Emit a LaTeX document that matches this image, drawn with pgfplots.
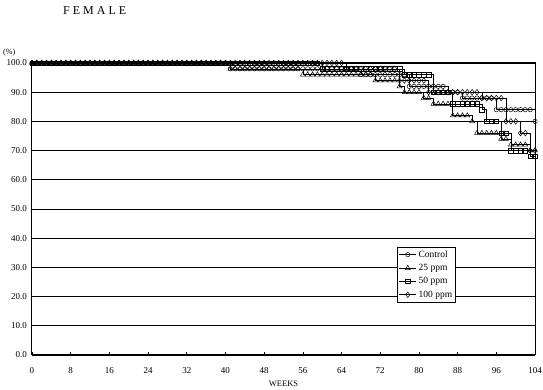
\documentclass[border=0pt]{standalone}
\usepackage{fontspec}
\setmainfont{Liberation Serif}
\usepackage{pgfplots}
\usepackage{pgfplotstable}
\pgfplotsset{compat=1.18}

\pgfplotstableread{
w c t s d
0 100 100 100 100
1 100 100 100 100
2 100 100 100 100
3 100 100 100 100
4 100 100 100 100
5 100 100 100 100
6 100 100 100 100
7 100 100 100 100
8 100 100 100 100
9 100 100 100 100
10 100 100 100 100
11 100 100 100 100
12 100 100 100 100
13 100 100 100 100
14 100 100 100 100
15 100 100 100 100
16 100 100 100 100
17 100 100 100 100
18 100 100 100 100
19 100 100 100 100
20 100 100 100 100
21 100 100 100 100
22 100 100 100 100
23 100 100 100 100
24 100 100 100 100
25 100 100 100 100
26 100 100 100 100
27 100 100 100 100
28 100 100 100 100
29 100 100 100 100
30 100 100 100 100
31 100 100 100 100
32 100 100 100 100
33 100 100 100 100
34 100 100 100 100
35 100 100 100 100
36 100 100 100 100
37 100 100 100 100
38 100 100 100 100
39 100 100 100 100
40 100 100 100 100
41 98 98 100 100
42 98 98 100 100
43 98 98 100 100
44 98 98 100 100
45 98 98 100 100
46 98 98 100 100
47 98 98 100 100
48 98 98 100 100
49 98 98 100 100
50 98 98 100 100
51 98 98 100 100
52 98 98 100 100
53 98 98 100 100
54 98 98 100 100
55 98 98 100 100
56 98 96 100 100
57 98 96 100 100
58 98 96 100 100
59 98 96 100 100
60 98 96 98 100
61 98 96 98 100
62 98 96 98 100
63 98 96 98 100
64 98 96 98 100
65 98 96 98 98
66 98 96 98 98
67 98 96 98 98
68 96 96 98 98
69 96 96 98 98
70 96 96 98 98
71 96 94 98 98
72 96 94 98 98
73 96 94 98 98
74 96 94 98 98
75 96 94 98 98
76 96 92 98 94
77 96 90 96 94
78 92 90 96 94
79 92 90 96 94
80 92 90 96 94
81 92 88 96 94
82 92 88 96 90
83 92 86 90 90
84 92 86 90 90
85 92 86 90 90
86 90 86 90 90
87 90 82 86 90
88 90 82 86 90
89 88 82 86 90
90 88 82 86 90
91 88 80 86 90
92 88 76 86 90
93 88 76 84 88
94 88 76 80 88
95 88 76 80 88
96 84 76 80 88
97 84 74 76 88
98 84 74 76 80
99 84 72 70 80
100 84 72 70 80
101 84 72 70 76
102 84 72 70 76
103 84 70 68 70
104 80 70 68 70
}\survtab

\begin{document}
\begin{tikzpicture}
\path[use as bounding box] (0pt,0pt) rectangle (543pt,390pt);
\begin{axis}[
  at={(32pt,35pt)}, anchor=south west,
  scale only axis, width=503pt, height=292pt,
  xmin=0, xmax=104, ymin=0, ymax=100,
  xtick={0,8,...,104}, ytick={0,10,...,100},
  ymajorgrids, grid style={black, line width=0.8pt},
  axis line style={line width=1pt},
  xtick pos=bottom, ytick pos=left,
  tick align=inside, major tick length=3pt,
  ytick style={draw=none},
  xtick style={black, line width=0.6pt},
  /pgf/number format/assume math mode=true,
  yticklabel style={/pgf/number format/.cd, fixed, fixed zerofill, precision=1, /tikz/.cd, anchor=east, inner sep=0pt, xshift=-5pt, font=\fontsize{9}{9}\selectfont},
  xticklabel style={anchor=base, inner sep=0pt, yshift=-19pt, font=\fontsize{9}{9}\selectfont},
  xlabel={WEEKS},
  xlabel style={at={(axis description cs:0.5,0)}, anchor=base, inner sep=0pt, yshift=-32pt, font=\fontsize{8.5}{9}\selectfont},
  clip=false,
  legend style={at={(rel axis cs:0.726,0.18)}, anchor=south west, draw=black, fill=white, line width=0.6pt, font=\fontsize{9.5}{10}\selectfont, inner sep=1.5pt, row sep=1.5pt, legend cell align=left},
  every axis plot/.append style={line width=0.6pt, black},
]
\addplot[const plot, mark=o, mark size=2.2pt, mark options={solid, fill=white, line width=0.5pt}] table[x=w, y=c] {\survtab};
\addlegendentry{Control}
\addplot[const plot, mark=triangle, mark size=2.8pt, mark options={solid, fill=white, line width=0.5pt}] table[x=w, y=t] {\survtab};
\addlegendentry{25 ppm}
\addplot[const plot, mark=square, mark size=2.2pt, mark options={solid, fill=white, line width=0.5pt}] table[x=w, y=s] {\survtab};
\addlegendentry{50 ppm}
\addplot[const plot, mark=diamond, mark size=2.8pt, mark options={solid, fill=white, line width=0.5pt}] table[x=w, y=d] {\survtab};
\addlegendentry{100 ppm}
\node[anchor=base west, inner sep=0pt, font=\fontsize{8}{8}\selectfont, xshift=-29pt, yshift=8pt] at (rel axis cs:0,1) {(\%)};
\node[anchor=base west, inner sep=0pt, font=\fontsize{12}{12}\selectfont, xshift=31pt, yshift=48pt] at (rel axis cs:0,1) {F\hspace{3pt}E\hspace{3pt}M\hspace{3pt}A\hspace{3pt}L\hspace{3pt}E};
\end{axis}
\end{tikzpicture}
\end{document}
